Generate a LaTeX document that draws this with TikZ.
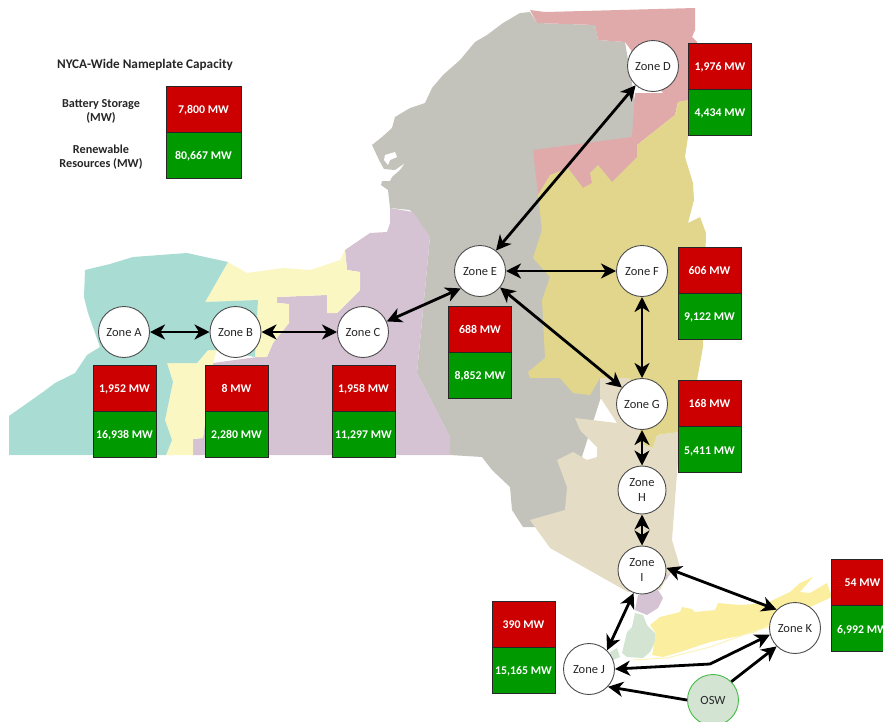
\documentclass[tikz,border=0pt]{standalone}
\usepackage{fontspec}
\setmainfont{Carlito}
\usetikzlibrary{arrows.meta}
\definecolor{mteal}{HTML}{A9DCD3}
\definecolor{mpale}{HTML}{FAF7C3}
\definecolor{mmauve}{HTML}{D5C2D3}
\definecolor{mgray}{HTML}{C3C3BC}
\definecolor{mpink}{HTML}{E0A9AA}
\definecolor{mkhaki}{HTML}{E1D68C}
\definecolor{mtan}{HTML}{E4DCC4}
\definecolor{mgreen}{HTML}{D3E4D3}
\definecolor{myellow}{HTML}{FBEE9E}
\definecolor{boxred}{HTML}{CC0000}
\definecolor{boxgreen}{HTML}{009900}
\definecolor{inktext}{HTML}{262626}
\tikzset{
  zonebase/.style={circle,draw=black!70,line width=0.9pt,fill=white,minimum size=51pt,inner sep=0pt,outer sep=0.5pt,align=center,text=inktext,font=\fontsize{12.5}{15.5}\selectfont},
  zonenode/.style={zonebase,text height=9.5pt,text depth=0pt},
  smallzone/.style={zonebase,minimum size=48pt},
  oswnode/.style={zonenode,fill=mgreen,draw=green!45!gray},
  redbox/.style={rectangle,draw=black!85,line width=0.9pt,fill=boxred,text=white,minimum width=63pt,minimum height=46pt,inner sep=0pt,text height=9.5pt,text depth=0pt,font=\bfseries\fontsize{11.8}{13}\selectfont},
  greenbox/.style={redbox,fill=boxgreen},
  link/.style={draw=black,line width=2.8pt,{Stealth[length=15pt,width=15pt,inset=4.5pt]}-{Stealth[length=15pt,width=15pt,inset=4.5pt]}},
  onelink/.style={draw=black,line width=2.8pt,-{Stealth[length=15pt,width=15pt,inset=4.5pt]}},
  legendtext/.style={align=center,text=inktext,font=\bfseries\fontsize{12.2}{14}\selectfont},
  legendhead/.style={legendtext,font=\bfseries\fontsize{13.2}{15}\selectfont}
}
\begin{document}
\begin{tikzpicture}[x=1pt,y=-1pt]
\useasboundingbox (0,0) rectangle (883,721);
\clip (0,0) rectangle (883,721);
% map
\fill[mgray] (530,12) -- (520,13) -- (503,23) -- (487,35) -- (475,42) -- (460,60) -- (443,75) -- (432,88) -- (425,103) -- (410,108) -- (395,117) -- (392,128) -- (382,137) -- (372,145) -- (380,162) -- (384,169) -- (395,170) -- (405,163) -- (400,170) -- (392,177) -- (390,181) -- (382,181) -- (381,185) -- (388,190) -- (390,208) -- (410,210) -- (430,237) -- (417,373) -- (450,437) -- (450,455) -- (482,457) -- (492,470) -- (510,487) -- (512,510) -- (523,527) -- (535,527) -- (565,510) -- (600,400) -- (640,300) -- (640,130) -- (625,42) -- (598,40) -- (595,25) -- (537,23) -- cycle;
\fill[white] (385,155) -- (395,152) -- (397,157) -- (390,160) -- (388,165) -- (384,160) -- cycle;
\fill[mpink] (530,10) -- (545,12) -- (695,8) -- (695,30) -- (692,37) -- (697,42) -- (690,100) -- (678,102) -- (675,115) -- (637,145) -- (637,157) -- (612,182) -- (598,165) -- (590,173) -- (592,183) -- (583,188) -- (568,168) -- (550,175) -- (538,195) -- (533,150) -- (632,137) -- (635,93) -- (663,93) -- (625,42) -- (598,40) -- (595,25) -- (537,23) -- cycle;
\fill[mkhaki] (688,100) -- (688,137) -- (685,157) -- (693,183) -- (694,200) -- (688,223) -- (700,217) -- (706,233) -- (703,347) -- (697,380) -- (680,432) -- (657,435) -- (653,448) -- (637,443) -- (640,430) -- (600,378) -- (590,395) -- (573,393) -- (560,378) -- (530,378) -- (528,372) -- (545,358) -- (542,300) -- (550,277) -- (533,258) -- (542,230) -- (538,195) -- (550,175) -- (568,168) -- (583,188) -- (592,183) -- (590,173) -- (598,165) -- (612,182) -- (637,157) -- (637,145) -- (675,115) -- (678,102) -- cycle;
\fill[mtan] (600,378) -- (630,378) -- (640,430) -- (637,443) -- (653,448) -- (657,435) -- (678,432) -- (678,460) -- (672,540) -- (680,567) -- (668,575) -- (660,590) -- (628,592) -- (550,548) -- (535,527) -- (530,520) -- (565,510) -- (567,487) -- (557,460) -- (573,452) -- (587,460) -- (597,457) -- (597,447) -- (580,430) -- (575,418) -- (617,423) -- (600,397) -- cycle;
\fill[mmauve] (390,208) -- (413,212) -- (430,237) -- (417,373) -- (450,437) -- (450,455) -- (193,455) -- (193,439) -- (203,438) -- (213,363) -- (257,357) -- (267,357) -- (273,343) -- (289,323) -- (289,304) -- (277,303) -- (277,297) -- (327,295) -- (327,313) -- (337,313) -- (360,290) -- (360,272) -- (347,270) -- (345,250) -- (370,233) -- (387,232) -- (390,223) -- cycle;
\fill[mpale] (228,262) -- (247,273) -- (283,268) -- (310,270) -- (340,260) -- (345,250) -- (347,270) -- (360,272) -- (360,290) -- (337,313) -- (327,313) -- (327,295) -- (277,297) -- (277,303) -- (289,304) -- (289,323) -- (273,343) -- (267,357) -- (255,357) -- (258,300) -- (205,302) -- cycle;
\fill[mpale] (167,363) -- (197,363) -- (208,350) -- (217,350) -- (213,363) -- (203,438) -- (193,439) -- (193,455) -- (166,455) -- (172,440) -- (165,420) -- (173,382) -- cycle;
\fill[mteal] (9,416) -- (43,392) -- (55,383) -- (75,373) -- (87,355) -- (100,347) -- (88,313) -- (84,297) -- (85,270) -- (110,264) -- (133,257) -- (187,253) -- (228,262) -- (205,302) -- (258,300) -- (255,357) -- (217,350) -- (208,350) -- (197,363) -- (167,363) -- (173,382) -- (165,420) -- (172,440) -- (166,455) -- (9,455) -- cycle;
\fill[mmauve] (638,595) -- (658,590) -- (663,598) -- (658,608) -- (647,615) -- (635,610) -- cycle;
\fill[mmauve] (662,576) -- (670,574) -- (666,580) -- cycle;
\fill[mgreen] (635,613) -- (643,615) -- (647,625) -- (655,633) -- (655,642) -- (650,652) -- (643,658) -- (627,657) -- (622,653) -- (627,632) -- (632,627) -- cycle;
\fill[mgreen] (610,652) -- (617,648) -- (620,657) -- (613,660) -- cycle;
\fill[myellow] (650,625) -- (660,617) -- (680,612) -- (682,607) -- (692,609) -- (695,612) -- (715,610) -- (718,603) -- (740,605) -- (767,603) -- (773,600) -- (790,592) -- (800,583) -- (813,577) -- (800,592) -- (810,593) -- (827,583) -- (832,597) -- (770,625) -- (753,633) -- (710,642) -- (680,652) -- (663,657) -- (652,655) -- (655,640) -- (655,632) -- cycle;
\draw[myellow!70!white,line width=1pt] (633,660) -- (667,658) -- (710,647) -- (757,630) -- (770,627);
% boxes
\node[redbox] (ra) at (124.5,388) {1,952 MW};
\node[greenbox] (ga) at (124.5,434) {16,938 MW};
\node[redbox] (rb) at (236.5,388) {8 MW};
\node[greenbox] (gb) at (236.5,434) {2,280 MW};
\node[redbox] (rc) at (363.5,388) {1,958 MW};
\node[greenbox] (gc) at (363.5,434) {11,297 MW};
\node[redbox] (rd) at (720,66) {1,976 MW};
\node[greenbox] (gd) at (720,112) {4,434 MW};
\node[redbox] (re) at (480,329) {688 MW};
\node[greenbox] (ge) at (480,375) {8,852 MW};
\node[redbox] (rf) at (709.5,270) {606 MW};
\node[greenbox] (gf) at (709.5,316) {9,122 MW};
\node[redbox] (rg) at (709.5,403) {168 MW};
\node[greenbox] (gg) at (709.5,449.5) {5,411 MW};
\node[redbox] (rj) at (523.5,624) {390 MW};
\node[greenbox] (gj) at (523.5,670) {15,165 MW};
\node[redbox] (rk) at (862.5,582) {54 MW};
\node[greenbox] (gk) at (862.5,628.5) {6,992 MW};
\node[redbox,minimum width=75pt] (rl) at (203.5,109) {7,800 MW};
\node[greenbox,minimum width=75pt] (gl) at (203.5,155) {80,667 MW};
% legend
\node[legendhead] (lt) at (145,65) {NYCA-Wide Nameplate Capacity};
\node[legendtext] (lb) at (101,111) {Battery Storage\\(MW)};
\node[legendtext] (lr) at (101,157) {Renewable\\Resources (MW)};
% zones
\node[zonenode] (A) at (124,332) {Zone A};
\node[zonenode] (B) at (235.5,332) {Zone B};
\node[zonenode] (C) at (363,332) {Zone C};
\node[zonenode] (D) at (653,66) {Zone D};
\node[zonenode] (E) at (480,271) {Zone E};
\node[zonenode] (F) at (642,271) {Zone F};
\node[zonenode] (G) at (642,404) {Zone G};
\node[smallzone] (H) at (642,490) {Zone\\H};
\node[smallzone] (I) at (642,570) {Zone\\I};
\node[zonenode] (J) at (589,669) {Zone J};
\node[zonenode] (K) at (795,628) {Zone K};
\node[oswnode] (O) at (713,700) {OSW};
\coordinate (bend) at (710,664);
% connectors
\draw[link] (A) -- (B);
\draw[link] (B) -- (C);
\draw[link] (C.24) -- (E.222);
\draw[link] (D.228) -- (E.52);
\draw[link] (E) -- (F);
\draw[link] (E) -- (G);
\draw[link] (F) -- (G);
\draw[link] (G) -- (H);
\draw[link] (H) -- (I);
\draw[link] (I.250) -- (J.46);
\draw[link] (I.5) -- (K.135);
\draw[link] (J.0) -- (bend) -- (K.195);
\draw[onelink] (O.45) -- (K.225);
\draw[onelink] (O.180) -- (J.-43);
\end{tikzpicture}
\end{document}
